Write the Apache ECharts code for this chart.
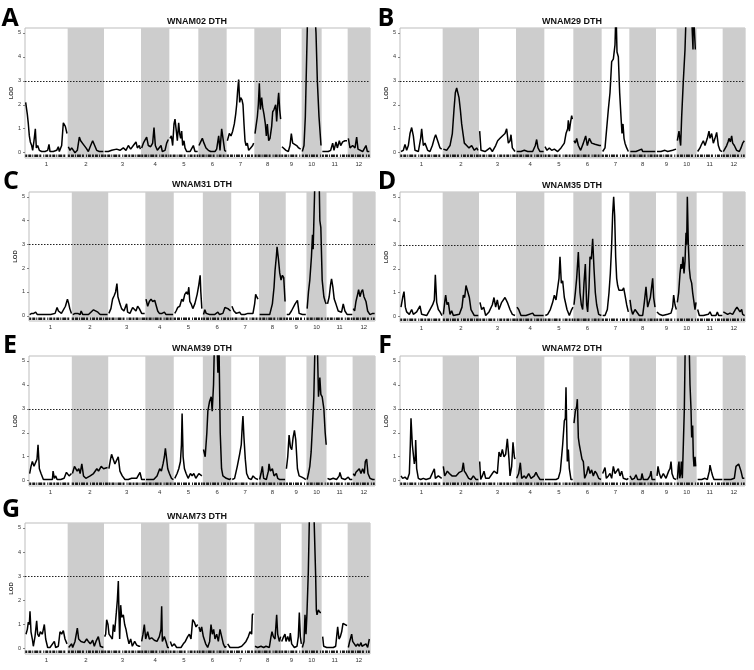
<!DOCTYPE html>
<html><head><meta charset="utf-8">
<script src="https://cdn.jsdelivr.net/npm/echarts@6/dist/echarts.min.js"></script>
<style>html,body{margin:0;padding:0;background:#fff}#c{width:754px;height:670px}</style>
</head><body><div id="c"></div>
<script>
const chromLabels = ['1','2','3','4','5','6','7','8','9','10','11','12'];
const chromLengths = [128,109,111,85,87,85,83,80,62,60,78,67];
const lodTicks = [0,1,2,3,4,5];
const threshold = 3;
const panelLetters = ['A','B','C','D','E','F','G'];
const panelTitles = ['WNAM02 DTH','WNAM29 DTH','WNAM31 DTH','WNAM35 DTH','WNAM39 DTH','WNAM72 DTH','WNAM73 DTH'];

// [position within chromosome, LOD, ...] per chromosome
const lodA = [
[2,2.1,7,1.6,10,1.2,13,0.7,16,0.45,20,0.3,23,0.1,27,0.5,31,1.0,34,0.2,38,0.3,43,0.1,50,0.05,60,0.05,68,0.1,72,0.35,75,0.05,85,0.05,95,0.1,100,0.25,103,0.05,110,0.3,115,1.25,121,1.1,126,0.8],
[2,0.25,7,0.1,12,0.2,22,0,29,0.1,35,0.65,39,0.5,42,0.55,47,0.35,55,0.2,62,0.05,69,0.3,75,0.5,80,0.45,87,0.1,95,0.05,107,0.05],
[2,0.05,13,0.05,23,0.1,28,0.05,38,0.15,48,0.1,58,0.2,66,0.1,73,0.3,80,0.15,88,0.3,96,0.45,100,0.2,106,0.3,109,0.15],
[2,0.2,7,0.4,11,0.5,17,0.65,22,0.3,29,0.25,35,0.4,39,1.05,43,0.3,49,0.1,55,0.1,60,0.3,64,0.05,72,0.1,77,0.4,82,0.55],
[2,0.6,6,0.7,10,0.3,14,1.2,17,1.4,21,0.9,24,0.5,28,1.25,31,0.8,34,0.6,37,0.9,40,0.3,44,0.5,47,0.2,52,0.05,62,0.05,72,0.3,77,0.05,85,0.05],
[2,0.3,7,0.45,12,0.6,17,0.4,23,0.2,30,0.1,37,0.05,50,0.05,55,0.15,61,0.7,65,0.1,70,1.0,74,0.6,79,0.1,83,0.05],
[2,0.5,8,0.8,13,0.7,18,0.9,23,1.2,27,1.6,30,2.0,33,2.6,36,3.05,39,2.1,42,2.3,46,2.2,49,2.0,52,1.2,55,0.5,58,0.3,62,0.4,66,0.1,72,0.2,78,0.3,81,0.4],
[2,0.8,5,1.1,9,1.5,12,2.0,15,2.9,18,1.8,22,2.3,25,1.9,29,1.6,33,1.2,36,0.7,39,1.2,43,0.5,47,0.6,52,1.1,55,1.7,59,1.8,64,2.0,67,1.3,71,2.2,73,2.5,76,1.8,79,1.4],
[3,0.25,9,0.3,15,0.1,22,0.05,27,0.3,31,0.8,35,0.4,41,0.35,47,0.3,53,0.2,59,0.15],
[2,0.05,7,0.3,11,1.5,15,4.0,19,6.5,30,8,39,6,43,5.0,47,3.0,52,1.5,58,0.3],
[2,0.05,10,0.05,20,0.05,27,0.1,33,0.4,37,0.1,43,0.45,47,0.2,53,0.5,57,0.3,63,0.45,70,0.5,76,0.5],
[2,0.6,7,0.2,15,0.3,22,0.2,27,0.65,31,0.15,37,0.1,45,0.05,55,0.3,59,0.05,65,0.05]
];
const lodB = [
[3,0.05,10,0.1,15,0.35,20,0.1,25,0.3,30,0.8,35,1.05,40,0.7,45,0.1,55,0.05,62,0.6,65,1.0,70,0.3,75,0.4,83,0.1,90,0.05,97,0.3,103,0.6,107,0.75,113,0.5,120,0.2,125,0.15],
[2,0.15,12,0.1,22,0.3,29,0.8,34,1.8,38,2.5,42,2.7,45,2.75,49,2.3,53,1.8,57,1.2,61,0.8,65,0.4,72,0.3,79,0.2,87,0.3,95,0.1,102,0.2,106,0.1],
[2,0.9,6,0.1,18,0.05,33,0.2,40,0.05,50,0.3,56,0.5,63,0.6,70,0.7,78,0.8,83,1.0,88,0.4,93,0.5,96,0.75,100,0.2,108,0.05],
[2,0.05,15,0.05,25,0.1,35,0.05,50,0.05,58,0.3,62,0.55,66,0.2,72,0.05,83,0.05],
[2,0.25,8,0.1,15,0.2,22,0.1,30,0.15,40,0.05,50,0.2,60,0.4,65,0.8,70,1.0,72,1.35,75,0.9,79,1.3,82,1.55,84,1.4],
[2,0.5,6,0.4,10,0.6,15,0.3,22,0.1,30,0.4,37,0.7,42,0.3,48,0.6,55,0.4,65,0.35,78,0.3,83,0.3],
[3,0.05,10,0.2,15,1.0,20,1.8,25,2.5,30,3.8,35,3.9,40,4.5,43,6,46,4.2,50,4.0,54,2.5,58,1.5,61,0.8,64,1.2,67,0.6,70,0.4,75,0.2,80,0.05],
[3,0.05,20,0.05,37,0.15,40,0.05,60,0.05,78,0.05],
[3,0.05,15,0.05,27,0.1,35,0.05,50,0.1,55,0.05,60,0.15],
[2,0.5,7,0.9,10,0.5,12,0.3,15,1.5,20,3.0,25,4.3,30,6.5,38,7,44,6,48,6,49,4.3,50,6,55,6,56,4.3,58,4.3],
[3,0.05,10,0.2,13,0.3,20,0.5,25,0.3,32,0.6,37,0.9,40,0.6,45,0.8,50,0.4,55,0.6,60,0.85,65,0.3,70,0.1,76,0.05],
[2,0.05,8,0.1,12,0.3,16,0.45,19,0.6,23,0.45,27,0.7,30,0.4,35,0.3,42,0.1,50,0.05,55,0.2,60,0.4,65,0.5]
];
const lodC = [
[2,0.05,8,0.1,14,0.1,20,0.15,25,0.05,45,0.05,65,0.05,78,0.1,84,0.35,88,0.2,92,0.25,97,0.1,102,0.05,109,0.4,115,0.7,119,0.5,122,0.3,127,0.1],
[3,0.05,10,0.1,13,0.15,18,0.1,25,0.05,28,0.2,33,0.05,50,0.05,65,0.25,70,0.3,78,0.15,85,0.05,107,0.05],
[2,0.1,8,0.3,13,0.7,18,0.85,22,1.0,26,1.35,29,0.8,35,0.5,40,0.3,47,0.2,55,0.5,58,0.15,65,0.1,73,0.35,78,0.4,83,0.2,88,0.4,93,0.3,100,0.1,109,0.1],
[2,0.7,7,0.4,12,0.6,17,0.7,22,0.6,28,0.65,32,0.65,37,0.2,42,0.1,50,0.1,57,0.15,62,0.05,83,0.05],
[3,0.1,7,0.2,12,0.35,18,0.4,24,0.7,28,0.6,33,0.9,38,1.0,42,0.9,45,1.2,48,0.6,52,0.5,57,0.3,63,0.5,70,0.9,75,1.3,79,1.7,81,1.0,84,0.3],
[2,0.05,6,0.25,10,0.1,20,0.05,35,0.05,45,0.15,50,0.05,60,0.1,66,0.35,70,0.4,75,0.3,83,0.2],
[2,0.4,8,0.2,15,0.1,25,0.15,30,0.05,40,0.05,50,0.1,55,0.05,65,0.1,70,0.5,73,0.9,76,0.8,80,0.7],
[2,0.05,20,0.05,32,0.05,40,0.5,45,1.2,48,1.9,52,2.5,54,2.9,58,2.4,62,1.8,66,1.5,70,1.7,74,1.6,78,0.6],
[3,0.05,10,0.05,17,0.2,22,0.15,28,0.5,35,0.65,40,0.1,50,0.05,60,0.05],
[2,0.3,6,1.0,10,1.5,15,2.5,18,3.4,20,2.8,24,5,27,7,33,7,37,6.5,40,4,43,3.7,47,1.5,52,0.8,56,0.6,59,0.5],
[3,0.5,8,0.8,12,1.3,15,1.55,19,1.2,23,0.7,28,0.5,35,0.2,45,0.15,50,0.5,55,0.2,62,0.05,77,0.05],
[2,0.3,6,0.2,10,0.6,15,0.9,18,1.1,22,0.8,26,1.0,30,1.1,34,0.8,40,0.6,45,0.2,52,0.05,60,0.1,66,0.1]
];
const lodD = [
[3,0.4,8,0.8,12,1.05,16,0.4,20,0.2,28,0.1,35,0.3,40,0.1,50,0.2,60,0.45,65,0.1,80,0.05,90,0.3,98,0.5,103,0.7,106,1.75,110,0.6,115,0.3,120,0.2,126,0.05],
[2,0.1,7,0.7,9,0.9,13,0.5,17,0.6,22,0.1,27,0.25,32,0.05,50,0.1,58,0.4,62,0.9,66,0.8,70,1.3,74,1.35,80,0.8,85,0.3,95,0.05,107,0.05],
[3,0.6,8,0.3,14,0.4,20,0.05,30,0.2,40,0.5,45,0.8,50,0.4,55,0.7,60,0.3,68,0.6,78,0.8,85,0.6,93,0.3,100,0.1,108,0.05],
[3,0.4,8,0.3,15,0.05,30,0.05,50,0.15,55,0.05,83,0.05],
[3,0.05,10,0.1,18,0.3,25,0.6,30,0.9,35,0.7,40,1.2,44,1.6,47,2.5,51,1.4,55,1.5,60,0.8,68,0.3,75,0.05,82,0.3,86,0.4],
[2,0.5,6,1.0,10,1.6,15,2.7,20,1.0,24,0.5,28,0.3,32,1.4,36,2.2,40,0.5,43,0.2,47,1.2,50,2.5,54,2.4,58,3.25,62,2.0,66,1.0,70,0.5,76,0.1,84,0.05],
[3,0.05,10,0.05,17,0.3,22,1.0,26,1.8,30,3.0,33,4.3,36,5.0,39,4.2,42,2.5,45,1.6,48,1.3,52,1.1,57,1.15,62,1.1,66,1.2,70,0.9,75,0.5,80,0.2],
[2,0.7,6,0.3,10,0.1,17,0.3,23,0.35,30,0.05,40,0.05,45,0.6,50,1.25,55,0.4,63,0.8,70,1.6,73,0.8,77,0.4],
[3,0.2,10,0.1,20,0.05,35,0.1,45,0.15,50,0.4,53,0.9,57,0.5,61,0.3],
[2,0.6,6,1.0,10,1.8,13,2.2,16,2.0,19,2.5,22,1.8,25,2.3,28,3.5,30,3.0,32,5.0,35,3.0,38,2.0,41,1.6,45,1.4,48,1.0,52,0.6,55,0.3,58,0.6],
[3,0.3,8,0.05,20,0.05,35,0.1,40,0.2,45,0.05,58,0.05,62,0.2,66,0.05,77,0.05],
[2,0.2,8,0.15,15,0.1,22,0.15,30,0.1,38,0.3,43,0.4,47,0.45,52,0.2,57,0.3,60,0.1,66,0.05]
];
const lodE = [
[2,0.3,6,0.6,10,0.8,15,0.6,20,0.6,24,0.9,27,1.5,31,0.5,36,0.3,43,0.05,55,0.05,70,0.05,72,0.4,76,0.1,80,0.2,84,0.05,95,0.05,105,0.1,112,0.35,120,0.2,127,0.3],
[2,0.3,8,0.6,12,0.55,16,0.4,21,0.5,25,0.3,30,0.7,35,0.2,42,0.1,55,0.2,65,0.3,75,0.5,80,0.4,88,0.6,95,0.5,100,0.45,107,0.55],
[2,0.5,7,0.9,10,1.1,15,0.9,20,0.7,25,0.75,30,1.0,35,0.4,42,0.2,50,0.05,60,0.05,70,0.1,75,0.05,85,0.1,95,0.35,100,0.05,110,0.05],
[2,0.05,25,0.05,35,0.2,43,0.5,48,0.4,53,0.7,57,1.0,60,1.35,63,1.0,67,0.5,72,0.3,78,0.1,84,0.05],
[3,0.1,10,0.3,15,0.5,20,0.8,23,1.5,25,2.8,28,1.0,32,0.5,37,0.3,43,0.1,50,0.3,55,0.2,60,0.3,66,0.1,75,0.3,84,0.2],
[2,1.3,7,1.0,12,2.0,15,2.9,20,3.3,25,3.5,28,2.9,32,4,35,6,42,6,45,4.5,48,6,52,2.0,56,0.5,60,0.2,70,0.1,80,0.05,84,0.1],
[3,0.05,10,0.1,18,0.6,25,1.1,30,1.5,33,2.3,35,2.7,38,1.8,42,0.9,46,0.3,52,0.1,60,0.05,65,0.2,72,0.1,80,0.05],
[2,0.05,6,0.3,10,0.6,14,0.1,22,0.05,28,0.4,30,0.7,34,0.4,40,0.5,45,0.2,52,0.3,56,0.1,62,0.05,78,0.05],
[2,0.5,6,1.0,10,1.9,14,1.4,18,1.3,22,1.8,26,2.1,30,1.7,35,0.5,40,0.2,48,0.15,55,0.1,60,0.05],
[2,0.05,6,0.3,10,0.6,14,1.2,18,2.3,22,3.5,26,6,32,6,36,3.5,40,4.3,43,3.6,47,3.5,52,3.0,56,2.0,59,1.5],
[3,0.1,10,0.05,20,0.1,30,0.05,38,0.2,40,0.35,45,0.1,55,0.05,65,0.15,70,0.05,77,0.05],
[2,0.3,6,0.2,10,0.35,15,0.3,20,0.5,25,0.3,30,0.5,35,0.3,38,0.8,42,0.9,46,0.3,52,0.1,60,0.05,66,0.05]
];
const lodF = [
[3,0.2,8,0.1,15,0.15,22,0.05,28,0.3,31,1.5,33,2.6,37,1.5,40,1.1,43,0.7,46,1.0,47,1.7,50,0.5,55,0.1,62,0.05,70,0.1,73,0.15,78,0.05,90,0.1,95,0.05,103,0.5,106,0.1,115,0.2,125,0.1],
[2,0.6,6,0.2,10,0.3,14,0.4,20,0.3,28,0.2,40,0.2,50,0.35,58,0.4,62,0.75,65,0.4,70,0.3,78,0.1,85,0.05,92,0.2,100,0.05,107,0.05],
[2,0.8,5,0.05,10,0.2,15,0.4,20,0.1,30,0.1,40,0.3,45,0.4,50,0.45,55,0.3,60,1.2,65,1.0,70,1.3,75,1.0,80,1.1,85,1.75,90,0.9,93,0.2,98,0.6,102,1.6,106,1.0,108,0.9],
[2,0.1,8,0.3,13,0.75,17,0.1,25,0.2,30,0.1,38,0.3,45,0.1,55,0.2,60,0.35,65,0.2,72,0.05,84,0.05],
[2,0.05,20,0.05,35,0.05,42,0.1,48,0.4,55,1.5,60,2.5,63,2.6,65,3.9,67,2.3,69,0.8,72,1.3,75,0.5,80,0.05,85,0.05],
[2,2.4,6,2.9,10,3.1,12,3.4,15,1.8,18,1.5,22,1.2,26,0.9,30,0.8,34,0.1,40,0.3,45,0.6,50,0.3,55,0.45,60,0.2,65,0.4,70,0.3,76,0.1,83,0.05],
[3,0.3,10,0.55,14,0.1,20,0.2,25,0.3,30,0.1,35,0.6,40,0.3,45,0.4,50,0.5,55,0.2,60,0.4,65,0.1,75,0.05,80,0.1],
[2,0.2,8,0.05,15,0.1,20,0.25,25,0.05,35,0.05,38,0.3,42,0.05,55,0.05,62,0.2,65,0.4,68,0.05,78,0.05],
[3,0.2,6,0.6,10,0.3,15,0.1,22,0.3,30,0.1,38,0.4,42,0.5,45,0.8,48,0.3,53,0.1,60,0.05],
[2,0.05,5,0.6,7,0.8,9,0.1,12,0.3,14,0.8,17,0.1,20,1.5,23,3,26,6,37,6,40,4,43,3.0,45,1.8,48,2.3,50,1.0,52,0.6,55,1.0,57,0.6],
[3,0.05,15,0.05,25,0.1,32,0.05,38,0.4,40,0.65,44,0.4,48,0.2,52,0.05,60,0.05,77,0.05],
[3,0.05,15,0.05,25,0.05,35,0.1,40,0.6,44,0.55,48,0.7,50,0.75,55,0.4,60,0.1,65,0.1]
];
const lodG = [
[3,0.6,7,0.8,10,1.1,13,1.0,15,1.55,18,0.7,22,0.4,25,0.1,30,0.5,35,1.15,38,0.6,42,0.5,46,0.7,52,0.6,58,1.0,62,0.4,68,0.05,75,0.05,80,0.1,88,0.3,92,0.05,100,0.1,105,0.7,110,0.6,115,0.75,120,0.4,126,0.2],
[3,0.05,12,0.2,15,0.05,22,0.3,29,0.85,33,0.4,40,0.3,45,0.35,50,0.25,57,0.4,62,0.3,68,0.2,75,0.35,80,0.1,85,0.3,92,0.5,98,0.1,107,0.05],
[2,0.5,5,0.6,8,1.2,12,1.0,15,0.6,20,0.5,25,0.4,28,1.0,32,0.7,37,1.5,40,2.0,43,2.8,45,1.4,47,0.4,50,1.8,53,1.3,58,1.4,62,1.0,66,0.8,70,0.5,75,0.2,80,0.4,85,0.1,92,0.3,98,0.15,105,0.1,109,0.1],
[2,0.3,6,0.6,10,1.0,14,0.4,20,0.7,25,0.4,32,0.45,40,0.35,48,0.3,55,0.5,60,0.8,62,1.75,64,0.3,70,0.5,75,0.3,80,0.05,84,0.05],
[3,0.3,8,0.1,15,0.2,22,0.05,35,0.05,42,0.2,48,0.3,55,0.5,60,0.6,65,0.4,70,1.2,75,1.1,80,0.9,85,1.0],
[2,0.9,6,0.7,10,0.9,15,0.5,22,0.2,28,0.05,34,0.3,38,1.0,42,0.6,46,0.8,50,0.4,55,0.6,60,0.3,65,0.8,70,0.5,75,0.2,80,0.05,84,0.1],
[3,0.2,10,0.05,25,0.05,35,0.05,45,0.1,52,0.2,58,0.3,65,0.5,70,0.7,75,0.6,77,1.4,80,1.45],
[2,0.1,10,0.05,20,0.1,28,0.05,35,0.1,45,0.05,50,0.5,53,0.7,57,0.5,62,0.4,67,1.4,70,0.6,75,0.3,79,0.5],
[2,0.3,8,0.5,12,0.6,15,0.3,20,0.5,25,0.3,28,0.65,32,0.2,40,0.05,48,0.1,52,0.5,55,1.5,58,0.5,61,0.2],
[2,0.05,7,0.3,10,1.4,13,0.6,16,1.5,20,3.2,24,6,36,6,39,6,42,3.0,44,1.6,46,1.4,50,1.6,55,1.5,58,1.5],
[3,0.5,6,0.1,15,0.05,25,0.05,35,0.05,42,0.1,48,0.9,52,0.4,56,0.5,60,0.7,64,1.05,70,1.0,76,0.95],
[2,0.05,6,0.3,12,0.6,15,0.3,20,0.2,25,0.1,30,0.2,35,0.1,40,0.25,43,0.1,48,0.05,55,0.2,60,0.05,65,0.4]
];
const panelData = [lodA, lodB, lodC, lodD, lodE, lodF, lodG];

// layout (pixels)
const layout = [
  {left:25,  top:28,  width:345, height:130, letter:[10,19],  title:[197,22]},
  {left:400, top:28,  width:345, height:130, letter:[386,19], title:[572,22]},
  {left:29,  top:192, width:346, height:129, letter:[11,182], title:[202,185]},
  {left:400, top:192, width:345, height:130, letter:[387,182],title:[572,186]},
  {left:29,  top:356, width:346, height:130, letter:[10,346], title:[202,349]},
  {left:400, top:356, width:345, height:130, letter:[385,346],title:[572,349]},
  {left:25,  top:523, width:345, height:131, letter:[11,510], title:[197,517]}
];

const offsets = []; let acc = 0;
chromLengths.forEach(l => { offsets.push(acc); acc += l; });
const total = acc;
const centers = chromLengths.map((l, i) => offsets[i] + l / 2);

function curve(chroms) {
  const out = [];
  chroms.forEach((arr, ci) => {
    for (let i = 0; i < arr.length; i += 2) out.push([offsets[ci] + arr[i], arr[i + 1]]);
    out.push([offsets[ci] + chromLengths[ci], '-']);
  });
  return out;
}
function rug() {
  const out = [];
  chromLengths.forEach((l, ci) => {
    out.push([offsets[ci] + 0.8, -0.13]);
    out.push([offsets[ci] + l - 0.8, -0.13]);
    out.push([offsets[ci] + l, '-']);
  });
  return out;
}
const bandAreas = [];
chromLengths.forEach((l, ci) => { if (ci % 2 === 1) bandAreas.push([{xAxis: offsets[ci]}, {xAxis: offsets[ci] + l}]); });

const grids = [], xAxes = [], yAxes = [], series = [], graphics = [];
layout.forEach((g, i) => {
  grids.push({left: g.left, top: g.top, width: g.width, height: g.height, show: true,
    borderColor: '#bdbdbd', borderWidth: 1, backgroundColor: 'transparent'});
  xAxes.push({gridIndex: i, type: 'value', min: 0, max: total,
    axisLine: {show: false}, axisTick: {show: false}, splitLine: {show: false},
    axisLabel: {customValues: centers, formatter: v => chromLabels[centers.indexOf(v)] || '',
      fontSize: 6, color: '#333', margin: 3, fontFamily: 'Liberation Sans'}});
  yAxes.push({gridIndex: i, type: 'value', min: -0.22, max: 5.2,
    name: 'LOD', nameLocation: 'middle', nameGap: 11,
    nameTextStyle: {fontSize: 6, fontWeight: 'bold', color: '#333', fontFamily: 'Liberation Sans'},
    axisLine: {show: false},
    axisTick: {show: true, customValues: lodTicks, length: 2, lineStyle: {color: '#666', width: 0.8}},
    axisLabel: {customValues: lodTicks, fontSize: 5.5, color: '#333', margin: 4, fontFamily: 'Liberation Sans'},
    splitLine: {show: false}});
  series.push({type: 'line', xAxisIndex: i, yAxisIndex: i, data: [], silent: true, z: 1,
    markArea: {silent: true, itemStyle: {color: '#cdcdcd'}, data: bandAreas}});
  series.push({type: 'line', xAxisIndex: i, yAxisIndex: i, data: rug(), symbol: 'none', silent: true, z: 2,
    lineStyle: {color: '#1a1a1a', width: 2.5, type: [2,1,3,1,1,1,4,1,2,2,1,1,3,1], cap: 'butt'}});
  series.push({type: 'line', xAxisIndex: i, yAxisIndex: i, data: curve(panelData[i]), symbol: 'none',
    silent: true, z: 3, clip: true, lineStyle: {color: '#000', width: 1.5},
    markLine: {silent: true, symbol: 'none', label: {show: false},
      lineStyle: {color: '#222', width: 1, type: [1.5, 1.5]}, data: [{yAxis: threshold}]}});
  graphics.push({type: 'text', x: g.letter[0], y: g.letter[1], style: {text: panelLetters[i],
    font: 'bold 25px "Open Sans"', fill: '#000', textAlign: 'center', textVerticalAlign: 'middle'}});
  graphics.push({type: 'text', x: g.title[0], y: g.title[1], style: {text: panelTitles[i],
    font: 'bold 9px "Liberation Sans"', fill: '#111', textAlign: 'center', textVerticalAlign: 'middle'}});
});

const chart = echarts.init(document.getElementById('c'), null, {renderer: 'canvas'});
chart.setOption({animation: false, backgroundColor: '#fff', grid: grids, xAxis: xAxes, yAxis: yAxes,
  series: series, graphic: graphics});
</script></body></html>
